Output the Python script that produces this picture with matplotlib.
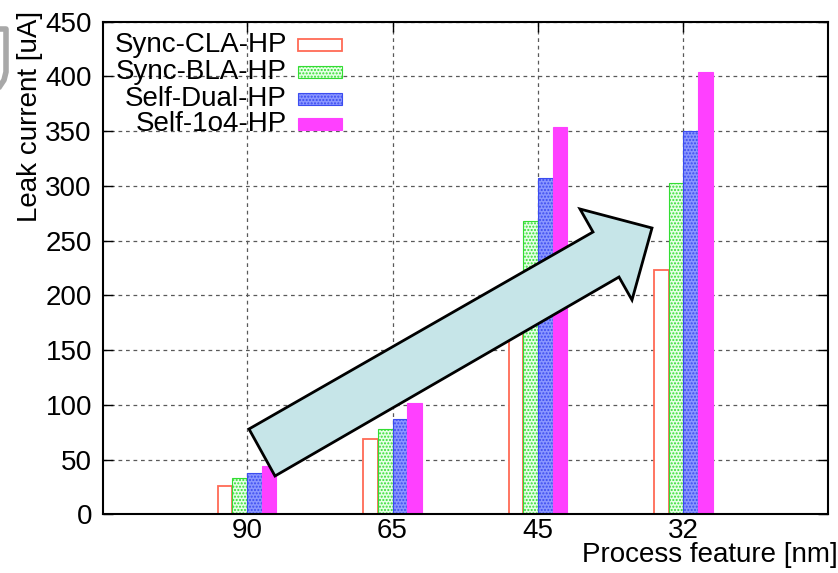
import matplotlib
matplotlib.use("Agg")
import matplotlib.pyplot as plt
from matplotlib.patches import Polygon, Rectangle
from matplotlib.lines import Line2D
import numpy as np

# Data
features = ["90", "65", "45", "32"]
series = ["Sync-CLA-HP", "Sync-BLA-HP", "Self-Dual-HP", "Self-1o4-HP"]
sync_cla = [26, 69, 180, 223]
sync_bla = [33, 78, 268, 303]
self_dual = [38, 87, 307, 350]
self_1o4 = [44, 102, 354, 404]
values = [sync_cla, sync_bla, self_dual, self_1o4]

# Arrow outline (figure pixels, annotation only)
arrow_px = [(249, 429), (275, 476), (619, 277), (632, 300),
            (652, 228), (580, 209), (593, 232)]

W, H = 838, 573
plt.rcParams['font.family'] = ['Liberation Sans', 'DejaVu Sans']
FS = 20

styles = [
    dict(facecolor="white", edgecolor="#ff6a55", linewidth=1.3),
    dict(facecolor="#e6ffe6", edgecolor="#33dd33", hatch=".....", linewidth=0.8),
    dict(facecolor="#8a96ff", edgecolor="#3b4cf0", hatch=".....", linewidth=0.8),
    dict(facecolor="#ff40ff", edgecolor="#ff40ff", linewidth=0.8),
]

fig = plt.figure(figsize=(W / 100, H / 100), dpi=100)
ax = fig.add_axes([103 / W, 1 - 514.3 / H, (827.5 - 103) / W, (514.3 - 21.7) / H])

x = np.arange(1, len(features) + 1)
width = 0.1
offsets = [-0.15, -0.05, 0.05, 0.15]
for vals, off, st in zip(values, offsets, styles):
    ax.bar(x + off, vals, width, zorder=2, **st)

ax.set_xlim(0.01, 4.99)
ax.set_ylim(0, 450)
ax.set_xticks(x)
ax.set_xticklabels(features)
ax.set_yticks(np.arange(0, 451, 50))
ax.tick_params(direction="in", length=7, width=1, top=True, right=True,
               labelsize=FS)
ax.tick_params(axis="x", pad=3)
ax.tick_params(axis="y", pad=8)
ax.grid(True, linestyle=(0, (3, 3)), color="0.35", linewidth=0.9, zorder=1)
ax.set_axisbelow(True)
for sp in ax.spines.values():
    sp.set_linewidth(1.5)

# gnuplot-style key: labels right aligned, sample box on the right
row_y = [45, 72, 99, 124]
for name, st, ry in zip(series, styles, row_y):
    yf = (514.3 - ry) / (514.3 - 21.7)
    ax.text((287 - 103) / 724.5, yf, name, transform=ax.transAxes,
            ha="right", va="center", fontsize=FS, zorder=5)
    ax.add_patch(Rectangle(((298 - 103) / 724.5, yf - 0.013), 44 / 724.5, 0.026,
                           transform=ax.transAxes, zorder=5, clip_on=False, **st))

# big arrow
arrow = Polygon([(px / W, 1 - py / H) for px, py in arrow_px], closed=True,
                transform=fig.transFigure, facecolor="#c6e5e8",
                edgecolor="black", linewidth=2, zorder=10)
fig.patches.append(arrow)

# axis labels placed like the original
fig.text(30 / W, 1 - 116 / H, "Leak current [uA]", rotation=90,
         ha="center", va="center", fontsize=FS)
fig.text(582 / W, 1 - 562 / H, "Process feature [nm]", ha="left",
         va="baseline", fontsize=FS)

# gray logo fragment at the top-left edge
fig.lines.append(Line2D([0 / W, 6 / W, 6 / W, 4 / W, 0 / W],
                        [1 - 29 / H, 1 - 29 / H, 1 - 72 / H, 1 - 80 / H, 1 - 86 / H],
                        transform=fig.transFigure, color="#a8a8a8", linewidth=4))

fig.savefig("out.png", dpi=100)
